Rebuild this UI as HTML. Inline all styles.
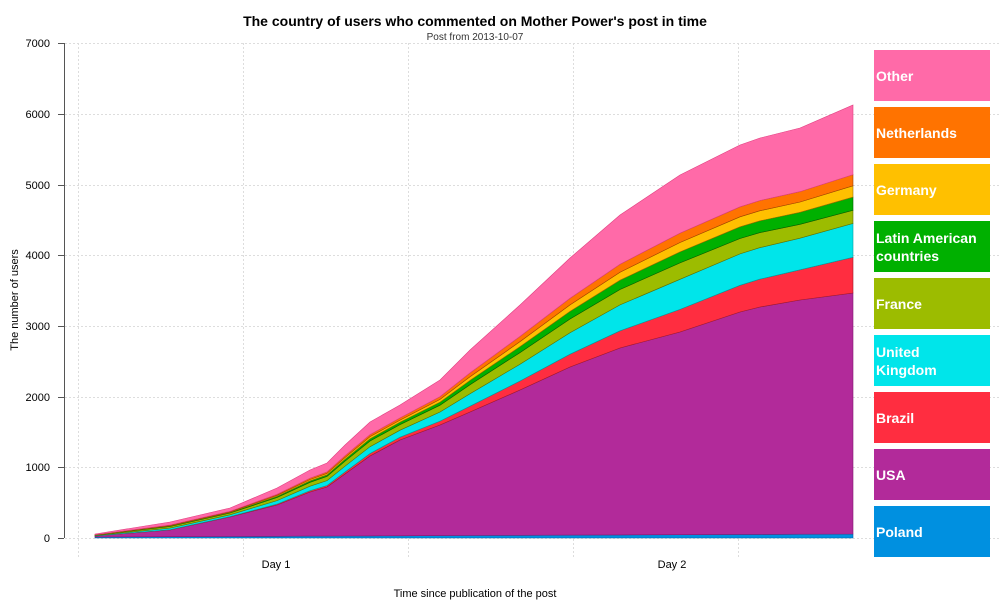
<!DOCTYPE html>
<html><head><meta charset="utf-8"><style>
body{margin:0;background:#fff;width:1000px;height:600px;overflow:hidden;font-family:"Liberation Sans",sans-serif}
.lg{position:absolute;left:874px;width:116px;height:51px;color:#fff;font-weight:bold;font-size:14px;display:flex;align-items:center;padding-left:2px;box-sizing:border-box;line-height:18px}
</style></head><body>
<svg id="s" width="1000" height="600" style="position:absolute;left:0;top:0" font-family="Liberation Sans, sans-serif">
<text x="475" y="26" text-anchor="middle" font-size="14" font-weight="bold">The country of users who commented on Mother Power's post in time</text>
<text x="475" y="40" text-anchor="middle" font-size="10" fill="#333">Post from 2013-10-07</text>
<g stroke="#ddd" stroke-dasharray="2,2" stroke-width="1">
<line x1="65" x2="1000" y1="43.5" y2="43.5"/><line x1="65" x2="1000" y1="114.5" y2="114.5"/><line x1="65" x2="1000" y1="185.5" y2="185.5"/><line x1="65" x2="1000" y1="255.5" y2="255.5"/><line x1="65" x2="1000" y1="326.5" y2="326.5"/><line x1="65" x2="1000" y1="397.5" y2="397.5"/><line x1="65" x2="1000" y1="467.5" y2="467.5"/><line x1="65" x2="1000" y1="538.5" y2="538.5"/>
<line x1="78.5" x2="78.5" y1="43" y2="557"/><line x1="243.5" x2="243.5" y1="43" y2="557"/><line x1="408.5" x2="408.5" y1="43" y2="557"/><line x1="573.5" x2="573.5" y1="43" y2="557"/><line x1="738.5" x2="738.5" y1="43" y2="557"/>
</g>
<g id="areas"></g>
<line x1="64.5" x2="64.5" y1="43" y2="538" stroke="#555"/>
<g stroke="#555"><line x1="58" x2="64" y1="43.5" y2="43.5"/><line x1="58" x2="64" y1="114.5" y2="114.5"/><line x1="58" x2="64" y1="185.5" y2="185.5"/><line x1="58" x2="64" y1="255.5" y2="255.5"/><line x1="58" x2="64" y1="326.5" y2="326.5"/><line x1="58" x2="64" y1="397.5" y2="397.5"/><line x1="58" x2="64" y1="467.5" y2="467.5"/><line x1="58" x2="64" y1="538.5" y2="538.5"/></g>
<g font-size="11" text-anchor="end"><text x="50" y="47">7000</text><text x="50" y="118">6000</text><text x="50" y="189">5000</text><text x="50" y="259">4000</text><text x="50" y="330">3000</text><text x="50" y="401">2000</text><text x="50" y="471">1000</text><text x="50" y="542">0</text></g>
<text x="276" y="568" font-size="11" text-anchor="middle">Day 1</text>
<text x="672" y="568" font-size="11" text-anchor="middle">Day 2</text>
<text x="475" y="597" font-size="11" text-anchor="middle">Time since publication of the post</text>
<text transform="translate(18,300) rotate(-90)" font-size="11" text-anchor="middle">The number of users</text>
</svg>
<div class="lg" style="top:50px;background:#ff6aa8">Other</div>
<div class="lg" style="top:107px;background:#ff7300">Netherlands</div>
<div class="lg" style="top:164px;background:#ffc000">Germany</div>
<div class="lg" style="top:221px;background:#00b000">Latin American countries</div>
<div class="lg" style="top:278px;background:#9cbc00">France</div>
<div class="lg" style="top:335px;background:#00e5ea">United<br>Kingdom</div>
<div class="lg" style="top:392px;background:#ff2d40">Brazil</div>
<div class="lg" style="top:449px;background:#b22a9a">USA</div>
<div class="lg" style="top:506px;background:#0090e0">Poland</div>
<script>
var X=[95,170,230,277,310,327,345,370,400,440,470,520,570,620,680,740,760,800,853];
var T=[534,522,508,488,470,463,445,422,405,380,350,305,258,215,175,145,138,128,105];
var P=[536,530,517,505,492,487,474,456,440,425,412,390,367,348,332,312,307,300,293];
var fr=[[0.08,0.1],[0.2,0.37],[0.44,0.44],[0.51,0.51],[0.57,0.57],[0.63,0.63]];
var cols=["#0090e0","#b22a9a","#ff2d40","#00e5ea","#9cbc00","#00b000","#ffc000","#ff7300","#ff6aa8"];
var strokes=["#0060a0","#801a70","#a01828","#00a0a0","#607000","#006000","#a07000","#a04000","#e04080"];
var n=X.length,layers=[];
var base=X.map(function(){return 538});
var pol=X.map(function(x,i){return 538-1-3*(x-95)/758});
layers.push(pol);layers.push(P.slice());
for(var k=0;k<6;k++){layers.push(X.map(function(x,i){var t=(x-95)/758;var f=fr[k][1];if(k==0)f=0.03+0.16*Math.pow(t,1.3);if(k==1)f=0.22+0.15*t;return P[i]-(P[i]-T[i])*f;}));}
layers.push(T.slice());
var g=document.getElementById('areas'),prev=base,h='';
for(var j=0;j<layers.length;j++){var L=layers[j],d='M';for(var i=0;i<n;i++)d+=X[i]+','+L[i].toFixed(1)+' L';for(i=n-1;i>=0;i--)d+=X[i]+','+prev[i].toFixed(1)+(i?' L':'');d+='Z';
h+='<path d="'+d+'" fill="'+cols[j]+'" stroke="'+strokes[j]+'" stroke-width="0.6"/>';prev=L;}
g.innerHTML=h;
</script>
</body></html>
